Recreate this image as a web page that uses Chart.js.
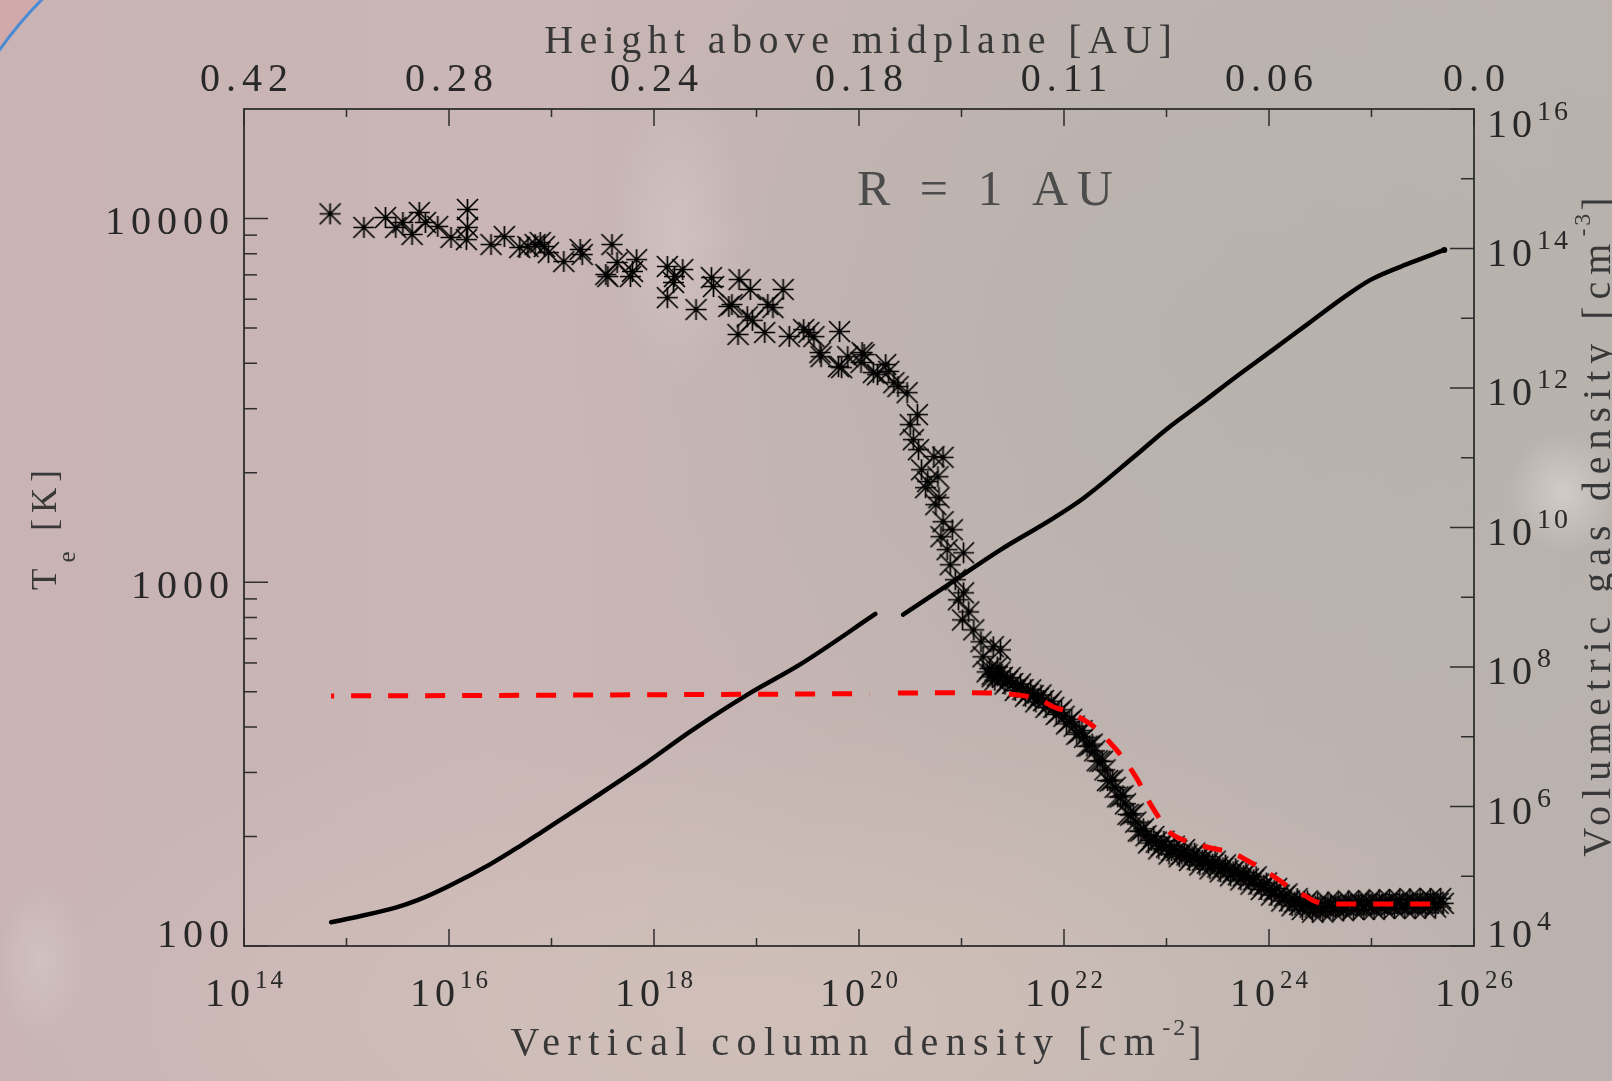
<!DOCTYPE html>
<html>
<head>
<meta charset="utf-8">
<title>Te and gas density profile, R = 1 AU</title>
<script src="https://cdn.jsdelivr.net/npm/chart.js@4.4.1/dist/chart.umd.min.js"></script>
<style>
  html, body { margin: 0; padding: 0; }
  body {
    width: 1612px;
    height: 1081px;
    overflow: hidden;
    position: relative;
    background:
      radial-gradient(ellipse 70px 150px at 678px 235px, rgba(222,208,208,0.45), rgba(222,208,208,0) 100%),
      radial-gradient(ellipse 55px 60px at 1563px 493px, rgba(226,221,219,0.6), rgba(226,221,219,0) 100%),
      radial-gradient(ellipse 45px 80px at 40px 960px, rgba(216,206,206,0.5), rgba(216,206,206,0) 100%),
      radial-gradient(ellipse 700px 520px at 1270px 340px, rgba(181,178,172,0.75), rgba(181,178,172,0) 100%),
      radial-gradient(ellipse 800px 300px at 760px 1010px, rgba(211,195,186,0.8), rgba(211,195,186,0) 100%),
      linear-gradient(90deg, #c9b3b4 0%, #cab6b6 30%, #c2b4b1 60%, #bab2ae 100%);
  }
  #corner { position: absolute; left: 0; top: 0; width: 60px; height: 60px; overflow: hidden; }
  #corner div {
    position: absolute; left: -75px; top: -120px; width: 800px; height: 800px;
    border-radius: 50%; box-sizing: border-box;
    border: 3px solid #4b8bd3; box-shadow: 0 0 0 80px #d2a9aa;
  }
  #te-profile { position: absolute; left: 0; top: 0; }
</style>
</head>
<body>
<div id="corner"><div></div></div>
<canvas id="te-profile" width="1612" height="1081"></canvas>
<script>
// column densities are log10(N / cm^-2), temperatures in K
const teColLog = [
  14.84, 15.17, 15.38, 15.48, 15.55, 15.64, 15.71, 15.77, 15.89, 16.02,
  16.17, 16.18, 16.18, 16.41, 16.54, 16.69, 16.77, 16.84, 16.89, 16.93,
  16.97, 17.12, 17.28, 17.30, 17.53, 17.55, 17.59, 17.64, 17.77, 17.79,
  17.83, 18.13, 18.13, 18.19, 18.20, 18.28, 18.41, 18.56, 18.58, 18.73,
  18.76, 18.82, 18.83, 18.91, 18.94, 18.96, 19.08, 19.11, 19.16, 19.26,
  19.32, 19.46, 19.51, 19.56, 19.62, 19.63, 19.80, 19.81, 19.83, 19.89,
  20.02, 20.03, 20.05, 20.14, 20.18, 20.26, 20.29, 20.34, 20.38, 20.47,
  20.50, 20.53, 20.57, 20.58, 20.61, 20.65, 20.67, 20.73, 20.75, 20.77,
  20.78, 20.80, 20.82, 20.82, 20.86, 20.89, 20.91, 20.94, 20.97, 21.01,
  21.02, 21.02, 21.07, 21.12, 21.19, 21.21, 21.30, 21.31, 21.35, 21.38,
  // dense part of the profile
  21.25, 21.30, 21.35, 21.40, 21.45, 21.50, 21.55, 21.60, 21.65, 21.70,
  21.75, 21.80, 21.85, 21.90, 21.95, 22.00, 22.05, 22.10, 22.15, 22.20,
  22.25, 22.30, 22.35, 22.40, 22.45, 22.50, 22.55, 22.60, 22.65, 22.70,
  22.75, 22.80, 22.85, 22.90, 22.95, 23.00, 23.05, 23.10, 23.15, 23.20,
  23.25, 23.30, 23.35, 23.40, 23.45, 23.50, 23.55, 23.60, 23.65, 23.70,
  23.75, 23.80, 23.85, 23.90, 23.95, 24.00, 24.05, 24.10, 24.15, 24.20,
  24.25, 24.30, 24.35, 24.40, 24.45, 24.50, 24.55, 24.60, 24.65, 24.70,
  24.75, 24.80, 24.85, 24.90, 24.95, 25.00, 25.05, 25.10, 25.15, 25.20,
  25.25, 25.30, 25.35, 25.40, 25.45, 25.50, 25.55, 25.60, 25.65, 25.70,
  21.275, 21.325, 21.375, 21.425, 21.475, 21.525, 21.575, 21.625, 21.675, 21.725,
  21.775, 21.825, 21.875, 21.925, 21.975, 22.025, 22.075, 22.125, 22.175, 22.225,
  22.275, 22.325, 22.375, 22.425, 22.475, 22.525, 22.575, 22.625, 22.675, 22.725,
  22.775, 22.825, 22.875, 22.925, 22.975, 23.025, 23.075, 23.125, 23.175, 23.225,
  23.275, 23.325, 23.375, 23.425, 23.475, 23.525, 23.575, 23.625, 23.675, 23.725,
  23.775, 23.825, 23.875, 23.925, 23.975, 24.025, 24.075, 24.125, 24.175, 24.225,
  24.275, 24.325, 24.375, 24.425, 24.475, 24.525, 24.575, 24.625, 24.675, 24.725,
  24.775, 24.825, 24.875, 24.925, 24.975, 25.025, 25.075, 25.125, 25.175, 25.225,
  25.275, 25.325, 25.375, 25.425, 25.475, 25.525, 25.575, 25.625, 25.675
];
const teK = [
  10300, 9450, 10060, 9450, 9750, 9040, 10390, 9750, 9510, 8870,
  8750, 10590, 9450, 8480, 8920, 8320, 8375, 8480, 8590, 8375,
  8060, 7615, 8220, 7960, 7015, 6925, 8480, 7570, 6925, 7150,
  7710, 6060, 7380, 6670, 6925, 7240, 5620, 6880, 6500, 5730,
  5800, 4800, 6795, 5370, 6380, 5250, 4860, 5800, 5690, 6380,
  4740, 4950, 4860, 4736, 4280, 4170, 3917, 4890, 3890, 4170,
  4018, 4280, 4226, 3770, 3722, 3967, 3800, 3538, 3450, 3321,
  2712, 2466, 2890, 2315, 2039, 1820, 1891, 2215, 1634, 1950,
  1708, 1334, 2205, 1467, 1229, 1117, 1394, 1016, 895, 788,
  1205, 935, 829, 740, 686, 624, 550, 665, 585, 652,
  567, 558, 553, 548, 535, 527, 514, 507, 495, 488,
  480, 473, 461, 453, 439, 428, 414, 402, 386, 375,
  355, 344, 322, 305, 284, 273, 257, 246, 229, 219,
  207, 201, 195, 193, 189, 187, 183, 183, 179, 178,
  176, 173, 172, 169, 168, 165, 164, 161, 160, 157,
  156, 153, 152, 148, 147, 143, 142, 138, 137, 133,
  132, 130, 130, 128, 128, 127, 128, 129, 128, 129,
  129, 130, 129, 130, 130, 129, 131, 130, 131, 130,
  131, 130, 131, 131, 130, 131, 131, 132, 131, 131,
  579, 538, 567, 525, 547, 504, 525, 486, 506, 469,
  490, 453, 471, 433, 446, 408, 420, 382, 391, 354,
  359, 323, 322, 285, 286, 257, 259, 230, 231, 207,
  210, 192, 200, 185, 194, 179, 188, 176, 184, 172,
  180, 167, 176, 163, 171, 160, 167, 156, 163, 152,
  159, 148, 155, 143, 149, 138, 144, 133, 139, 129,
  135, 126, 133, 124, 131, 124, 132, 125, 132, 125,
  133, 126, 133, 126, 133, 126, 134, 127, 134, 127,
  134, 127, 135, 127, 134, 127, 135, 128, 135
];

// red dashed temperature curve (null = missing zone)
const gasColLog = [
  14.85, 16.00, 17.50, 19.00, 20.10, 20.24, 20.38, 21.00, 21.12, 21.30,
  21.55, 21.77, 21.90, 22.05, 22.19, 22.33, 22.45, 22.56, 22.67, 22.75,
  22.82, 22.91, 23.01, 23.12, 23.26, 23.43, 23.65, 23.80, 23.95, 24.08,
  24.21, 24.34, 24.47, 24.63, 24.89, 25.20, 25.70
];
const gasK = [
  487, 488, 490, 492, 494, null, 496, 497, 497, 496,
  490, 475, 454, 440, 419, 393, 362, 333, 301, 276,
  252, 229, 208, 198, 192, 186, 180, 171, 162, 153,
  144, 138, 132, 130.5, 130.5, 130.5, 130.5
];

// volumetric gas density, log10(n / cm^-3)
const densColLog = [
  14.85, 15.11, 15.48, 15.70, 16.00, 16.40, 16.70, 16.90, 17.15, 17.40,
  17.90, 18.36, 18.92, 19.43, 20.16, 20.30, 20.43, 20.89, 21.38, 21.87,
  22.19, 22.68, 23.01, 23.33, 23.65, 24.04, 24.38, 24.74, 24.99, 25.39, 25.71
];
const densLog = [
  4.34, 4.42, 4.55, 4.66, 4.86, 5.17, 5.44, 5.63, 5.87, 6.11,
  6.60, 7.08, 7.61, 8.04, 8.76, null, 8.75, 9.20, 9.68, 10.11,
  10.42, 11.01, 11.42, 11.77, 12.13, 12.55, 12.92, 13.31, 13.55, 13.80, 13.98
];

// axis ticks
const X_MAJOR = [14, 16, 18, 20, 22, 24, 26];
const X_MINOR = [15, 17, 19, 21, 23, 25];
const HEIGHT_LABELS = ['0.42', '0.28', '0.24', '0.18', '0.11', '0.06', '0.0'];
const TE_MAJOR = [100, 1000, 10000];
const TE_MINOR = [200, 300, 400, 500, 600, 700, 800, 900, 2000, 3000, 4000, 5000, 6000, 7000, 8000, 9000];
const DENS_MAJOR = [4, 6, 8, 10, 12, 14, 16];
const DENS_MINOR = [5, 7, 9, 11, 13, 15];

const SERIF = '"Liberation Serif", "DejaVu Serif", serif';
const AXIS_COLOR = '#2e2e2e';
const LABEL_COLOR = '#282828';
const TITLE_COLOR = '#383838';

// IDL-style asterisk: a "+" and an "x" on top of each other
function asteriskMarker(r, w) {
  const c = document.createElement('canvas');
  const s = 2 * r + 4;
  c.width = c.height = s;
  const g = c.getContext('2d');
  const m = s / 2;
  g.strokeStyle = '#000';
  g.lineWidth = w;
  g.beginPath();
  g.moveTo(m - r, m); g.lineTo(m + r, m);
  g.moveTo(m, m - r); g.lineTo(m, m + r);
  g.moveTo(m - r, m - r); g.lineTo(m + r, m + r);
  g.moveTo(m - r, m + r); g.lineTo(m + r, m - r);
  g.stroke();
  return c;
}

// draws a row of text pieces, each {t, size, rise, sp}
function textRun(ctx, runs, x, y, align) {
  const widths = runs.map(r => {
    ctx.font = `${r.size}px ${SERIF}`;
    ctx.letterSpacing = '0px';
    return ctx.measureText(r.t).width + r.sp * [...r.t].length;
  });
  const last = runs[runs.length - 1];
  const total = widths.reduce((a, b) => a + b, 0) - last.sp;
  let cx = align === 'center' ? x - total / 2 : align === 'right' ? x - total : x;
  ctx.textAlign = 'left';
  ctx.textBaseline = 'alphabetic';
  runs.forEach((r, i) => {
    ctx.font = `${r.size}px ${SERIF}`;
    ctx.letterSpacing = r.sp + 'px';
    ctx.fillText(r.t, cx, y - (r.rise || 0));
    cx += widths[i];
  });
}

const idlAxes = {
  id: 'idlAxes',
  afterDraw(chart) {
    const { ctx, chartArea: a, scales } = chart;
    const xs = scales.x, ys = scales.y, ds = scales.y2;
    ctx.save();

    ctx.strokeStyle = AXIS_COLOR;
    ctx.lineWidth = 1.8;
    ctx.strokeRect(a.left, a.top, a.right - a.left, a.bottom - a.top);

    ctx.lineWidth = 1.5;
    const tick = (x0, y0, x1, y1) => {
      ctx.beginPath(); ctx.moveTo(x0, y0); ctx.lineTo(x1, y1); ctx.stroke();
    };
    X_MAJOR.forEach(e => {
      const px = xs.getPixelForValue(10 ** e);
      tick(px, a.bottom, px, a.bottom - 17);
      tick(px, a.top, px, a.top + 17);
    });
    X_MINOR.forEach(e => {
      const px = xs.getPixelForValue(10 ** e);
      tick(px, a.bottom, px, a.bottom - 8);
      tick(px, a.top, px, a.top + 8);
    });
    TE_MAJOR.forEach(v => { const py = ys.getPixelForValue(v); tick(a.left, py, a.left + 24, py); });
    TE_MINOR.forEach(v => { const py = ys.getPixelForValue(v); tick(a.left, py, a.left + 13, py); });
    DENS_MAJOR.forEach(e => { const py = ds.getPixelForValue(10 ** e); tick(a.right, py, a.right - 24, py); });
    DENS_MINOR.forEach(e => { const py = ds.getPixelForValue(10 ** e); tick(a.right, py, a.right - 13, py); });

    // tick labels
    ctx.fillStyle = LABEL_COLOR;
    X_MAJOR.forEach((e, i) => {
      const px = xs.getPixelForValue(10 ** e);
      textRun(ctx, [{ t: '10', size: 40, sp: 5 }, { t: String(e), size: 25, rise: 18, sp: 3 }], px, 1006, 'center');
      textRun(ctx, [{ t: HEIGHT_LABELS[i], size: 40, sp: 6 }], px, 91, 'center');
    });
    TE_MAJOR.forEach(v => {
      const py = ys.getPixelForValue(v);
      textRun(ctx, [{ t: String(v), size: 40, sp: 6 }], 229, Math.min(py + 16, a.bottom + 1), 'right');
    });
    DENS_MAJOR.forEach(e => {
      const py = ds.getPixelForValue(10 ** e);
      const base = Math.max(a.top + 28, Math.min(py + 17, a.bottom + 1));
      textRun(ctx, [{ t: '10', size: 40, sp: 5 }, { t: String(e), size: 28, rise: 17, sp: 3 }], 1487, base, 'left');
    });

    // axis titles
    ctx.fillStyle = TITLE_COLOR;
    textRun(ctx, [{ t: 'Height above midplane [AU]', size: 40, sp: 6.4 }], 858, 53, 'center');
    textRun(ctx, [
      { t: 'Vertical column density [cm', size: 40, sp: 7.4 },
      { t: '-2', size: 24, rise: 20, sp: 3 },
      { t: ']', size: 40, sp: 7.4 }
    ], 856, 1055, 'center');

    ctx.save();
    ctx.translate(56, 530);
    ctx.rotate(-Math.PI / 2);
    textRun(ctx, [
      { t: 'T', size: 35, sp: 6 },
      { t: 'e', size: 25, rise: -19, sp: 6 },
      { t: ' [K]', size: 35, sp: 6 }
    ], 0, 0, 'center');
    ctx.restore();

    ctx.save();
    ctx.translate(1610, 527);
    ctx.rotate(-Math.PI / 2);
    textRun(ctx, [
      { t: 'Volumetric gas density [cm', size: 40, sp: 7 },
      { t: '-3', size: 24, rise: 20, sp: 3 },
      { t: ']', size: 40, sp: 7 }
    ], 0, 0, 'center');
    ctx.restore();

    ctx.fillStyle = '#4c4c4c';
    textRun(ctx, [{ t: 'R = 1 AU', size: 50, sp: 8.5 }], 857, 205, 'left');

    ctx.restore();
  }
};

const teData = teColLog.map((c, i) => ({ x: 10 ** c, y: teK[i] }));
const gasData = gasColLog.map((c, i) => ({ x: 10 ** c, y: gasK[i] }));
const densData = densColLog.map((c, i) => ({ x: 10 ** c, y: densLog[i] === null ? null : 10 ** densLog[i] }));
const gasGap = gasK.indexOf(null);

new Chart(document.getElementById('te-profile'), {
  type: 'scatter',
  data: {
    datasets: [
      {
        label: 'T gas',
        data: gasData,
        yAxisID: 'y',
        showLine: true,
        spanGaps: false,
        borderColor: '#ff0000',
        borderWidth: 5,
        borderDash: [20, 17],
        borderDashOffset: 17,
        borderCapStyle: 'butt',
        cubicInterpolationMode: 'monotone',
        pointRadius: 0,
        segment: {
          borderDashOffset: ctx => (ctx.p0DataIndex > gasGap ? 0 : 17)
        }
      },
      {
        label: 'n gas',
        data: densData,
        yAxisID: 'y2',
        showLine: true,
        spanGaps: false,
        borderColor: '#000000',
        borderWidth: 4.5,
        borderCapStyle: 'round',
        borderJoinStyle: 'round',
        cubicInterpolationMode: 'monotone',
        pointRadius: ctx => (ctx.dataIndex === densData.length - 1 ? 3 : 0),
        pointBackgroundColor: '#000000',
        pointBorderWidth: 0
      },
      {
        label: 'Te',
        data: teData,
        yAxisID: 'y',
        showLine: false,
        pointStyle: asteriskMarker(10.5, 1.7),
        pointRadius: 10
      }
    ]
  },
  options: {
    responsive: false,
    animation: false,
    devicePixelRatio: 1,
    layout: { padding: { left: 244, right: 138, top: 109, bottom: 135 } },
    plugins: { legend: { display: false }, tooltip: { enabled: false } },
    scales: {
      x: { type: 'logarithmic', min: 1e14, max: 1e26, display: false },
      y: { type: 'logarithmic', min: 100, max: 20000, display: false },
      y2: { type: 'logarithmic', position: 'right', min: 1e4, max: 1e16, display: false }
    }
  },
  plugins: [idlAxes]
});
</script>
</body>
</html>
